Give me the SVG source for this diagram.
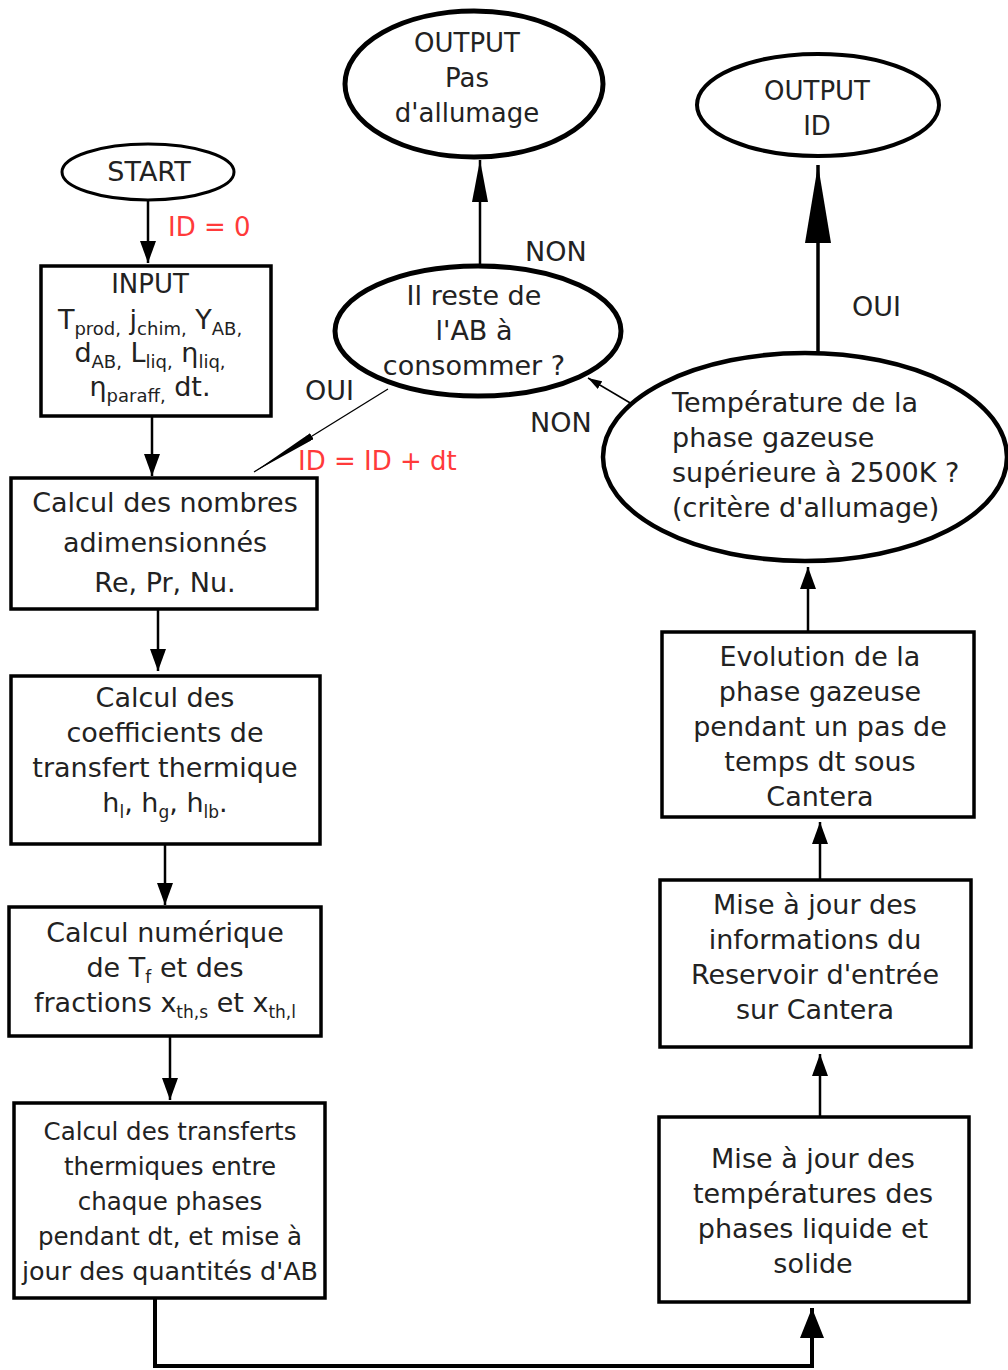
<svg xmlns="http://www.w3.org/2000/svg" width="1008" height="1370" viewBox="0 0 1008 1370">
<style>
text{font-family:"DejaVu Sans","Liberation Sans",sans-serif;fill:#222;text-anchor:middle}
.t27{font-size:27px}
.t26{font-size:26px}
.t25{font-size:24.5px}
.red{fill:#ff3a3a;text-anchor:start;font-size:26px}
.lab{font-size:27px;text-anchor:start}
.box{fill:#fff;stroke:#000;stroke-width:3.5}
.ell{fill:#fff;stroke:#000}
.c{fill:none;stroke:#000;stroke-width:2.5}
</style>
<defs>
<marker id="arr" markerUnits="userSpaceOnUse" viewBox="0 0 22 16" markerWidth="22" markerHeight="16" refX="22" refY="8" orient="auto"><path d="M0,0L22,8L0,16z"/></marker>
<marker id="big" markerUnits="userSpaceOnUse" viewBox="0 0 78 26" markerWidth="78" markerHeight="26" refX="78" refY="13" orient="auto"><path d="M0,0L78,13L0,26z"/></marker>
<marker id="pas" markerUnits="userSpaceOnUse" viewBox="0 0 42 16" markerWidth="42" markerHeight="16" refX="42" refY="8" orient="auto"><path d="M0,0L42,8L0,16z"/></marker>
<marker id="bot" markerUnits="userSpaceOnUse" viewBox="0 0 30 24" markerWidth="30" markerHeight="24" refX="30" refY="12" orient="auto"><path d="M0,0L30,12L0,24z"/></marker>
<marker id="slim" markerUnits="userSpaceOnUse" viewBox="0 0 68 7" markerWidth="68" markerHeight="7" refX="68" refY="3.5" orient="auto"><path d="M0,0L68,3.5L0,7z"/></marker>
<marker id="small" markerUnits="userSpaceOnUse" viewBox="0 0 14 9" markerWidth="14" markerHeight="9" refX="14" refY="4.5" orient="auto"><path d="M0,0L14,4.5L0,9z"/></marker>
</defs>

<g id="connectors">
<line class="c" x1="148" y1="201" x2="148" y2="263" marker-end="url(#arr)"/>
<line class="c" x1="152" y1="416" x2="152" y2="476" marker-end="url(#arr)"/>
<line class="c" x1="158" y1="609" x2="158" y2="671" marker-end="url(#arr)"/>
<line class="c" x1="165" y1="844" x2="165" y2="905" marker-end="url(#arr)"/>
<line class="c" x1="170" y1="1036" x2="170" y2="1100" marker-end="url(#arr)"/>
<path class="c" style="stroke-width:4" d="M155,1298V1366H812V1308" marker-end="url(#bot)"/>
<line class="c" x1="820" y1="1117" x2="820" y2="1054" marker-end="url(#arr)"/>
<line class="c" x1="820" y1="880" x2="820" y2="822" marker-end="url(#arr)"/>
<line class="c" x1="808" y1="632" x2="808" y2="567" marker-end="url(#arr)"/>
<line class="c" style="stroke-width:3.5" x1="818" y1="354" x2="818" y2="165" marker-end="url(#big)"/>
<line class="c" x1="480" y1="265" x2="480" y2="160" marker-end="url(#pas)"/>
<line class="c" style="stroke-width:1.3" x1="388" y1="389" x2="254" y2="472" marker-end="url(#slim)"/>
<line class="c" style="stroke-width:1.5" x1="632" y1="404" x2="588" y2="378" marker-end="url(#small)"/>
<text class="red" x="168" y="236">ID = 0</text>
<text class="red" x="298" y="470">ID = ID + dt</text>
<text class="lab" x="525" y="261">NON</text>
<text class="lab" x="852" y="316">OUI</text>
<text class="lab" x="305" y="400">OUI</text>
<text class="lab" x="530" y="432">NON</text>
</g>

<g id="start">
<ellipse class="ell" style="stroke-width:3" cx="148" cy="172" rx="86" ry="28"/>
<text class="t27" x="149" y="181">START</text>
</g>

<g id="input">
<rect class="box" x="41" y="266" width="230" height="150"/>
<text class="t26" x="150" y="293">INPUT</text>
<text class="t27" x="150" y="329">T<tspan font-size="18" dy="6">prod,</tspan><tspan dy="-6"> j</tspan><tspan font-size="18" dy="6">chim,</tspan><tspan dy="-6"> Y</tspan><tspan font-size="18" dy="6">AB,</tspan></text>
<text class="t27" x="150" y="362">d<tspan font-size="18" dy="6">AB,</tspan><tspan dy="-6"> L</tspan><tspan font-size="18" dy="6">liq,</tspan><tspan dy="-6"> η</tspan><tspan font-size="18" dy="6">liq,</tspan></text>
<text class="t27" x="150" y="396">η<tspan font-size="18" dy="6">paraff,</tspan><tspan dy="-6"> dt.</tspan></text>
</g>

<g id="nombres">
<rect class="box" x="11" y="478" width="306" height="131"/>
<text class="t27" x="165" y="512">Calcul des nombres</text>
<text class="t27" x="165" y="552">adimensionnés</text>
<text class="t27" x="165" y="592">Re, Pr, Nu.</text>
</g>

<g id="coefficients">
<rect class="box" x="11" y="676" width="309" height="168"/>
<text class="t27" x="165" y="707">Calcul des</text>
<text class="t27" x="165" y="742">coefficients de</text>
<text class="t27" x="165" y="777">transfert thermique</text>
<text class="t27" x="165" y="812">h<tspan font-size="17" dy="6">l</tspan><tspan dy="-6">, h</tspan><tspan font-size="17" dy="6">g</tspan><tspan dy="-6">, h</tspan><tspan font-size="17" dy="6">lb</tspan><tspan dy="-6">.</tspan></text>
</g>

<g id="numerique">
<rect class="box" x="9" y="907" width="312" height="129"/>
<text class="t27" x="165" y="942">Calcul numérique</text>
<text class="t27" x="165" y="977">de T<tspan font-size="17" dy="6">f</tspan><tspan dy="-6"> et des</tspan></text>
<text class="t27" x="165" y="1012">fractions x<tspan font-size="17" dy="6">th,s</tspan><tspan dy="-6"> et x</tspan><tspan font-size="17" dy="6">th,l</tspan></text>
</g>

<g id="transferts">
<rect class="box" x="14" y="1103" width="311" height="195"/>
<text class="t25" x="170" y="1140">Calcul des transferts</text>
<text class="t25" x="170" y="1175">thermiques entre</text>
<text class="t25" x="170" y="1210">chaque phases</text>
<text class="t25" x="170" y="1245">pendant dt, et mise à</text>
<text class="t25" x="170" y="1280" textLength="296" lengthAdjust="spacingAndGlyphs">jour des quantités d'AB</text>
</g>

<g id="maj-temperatures">
<rect class="box" x="659" y="1117" width="310" height="185"/>
<text class="t27" x="813" y="1168">Mise à jour des</text>
<text class="t27" x="813" y="1203">températures des</text>
<text class="t27" x="813" y="1238">phases liquide et</text>
<text class="t27" x="813" y="1273">solide</text>
</g>

<g id="maj-reservoir">
<rect class="box" x="660" y="880" width="311" height="167"/>
<text class="t27" x="815" y="914">Mise à jour des</text>
<text class="t27" x="815" y="949">informations du</text>
<text class="t27" x="815" y="984">Reservoir d'entrée</text>
<text class="t27" x="815" y="1019">sur Cantera</text>
</g>

<g id="evolution">
<rect class="box" x="662" y="632" width="312" height="185"/>
<text class="t27" x="820" y="666">Evolution de la</text>
<text class="t27" x="820" y="701">phase gazeuse</text>
<text class="t27" x="820" y="736">pendant un pas de</text>
<text class="t27" x="820" y="771">temps dt sous</text>
<text class="t27" x="820" y="806">Cantera</text>
</g>

<g id="critere">
<ellipse class="ell" style="stroke-width:4.5" cx="805" cy="457" rx="202" ry="104"/>
<text class="t27" x="672" y="412" style="text-anchor:start">Température de la</text>
<text class="t27" x="672" y="447" style="text-anchor:start">phase gazeuse</text>
<text class="t27" x="672" y="482" style="text-anchor:start">supérieure à 2500K ?</text>
<text class="t27" x="672" y="517" style="text-anchor:start">(critère d'allumage)</text>
</g>

<g id="reste-ab">
<ellipse class="ell" style="stroke-width:5" cx="478" cy="331" rx="143" ry="65"/>
<text class="t27" x="474" y="305">Il reste de</text>
<text class="t27" x="474" y="340">l'AB à</text>
<text class="t27" x="474" y="375">consommer ?</text>
</g>

<g id="output-pas">
<ellipse class="ell" style="stroke-width:5" cx="474" cy="84" rx="129" ry="73"/>
<text class="t26" x="467" y="52">OUTPUT</text>
<text class="t26" x="467" y="87">Pas</text>
<text class="t26" x="467" y="122">d'allumage</text>
</g>

<g id="output-id">
<ellipse class="ell" style="stroke-width:4" cx="818" cy="105" rx="121" ry="51"/>
<text class="t26" x="817" y="100">OUTPUT</text>
<text class="t26" x="817" y="135">ID</text>
</g>
</svg>
